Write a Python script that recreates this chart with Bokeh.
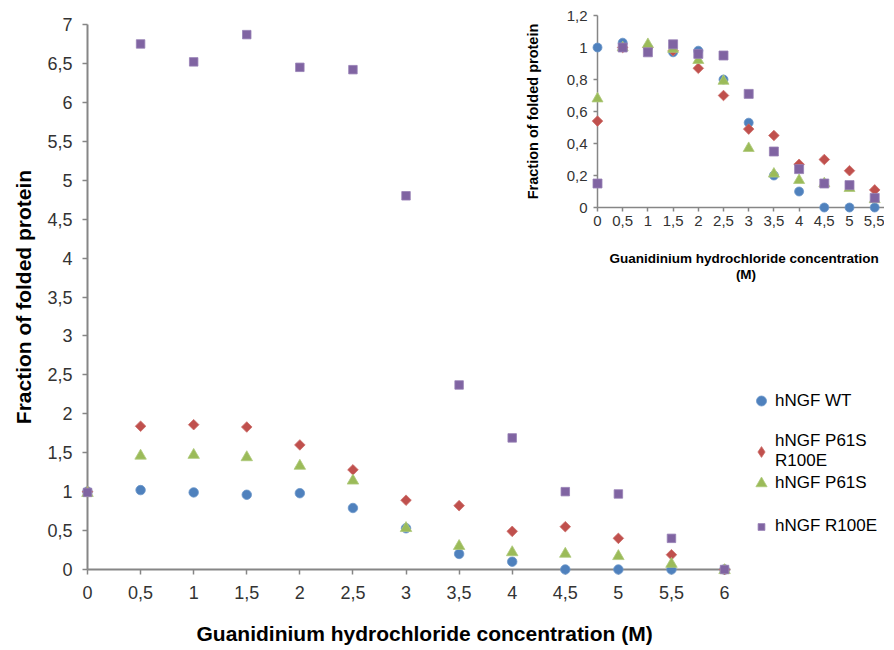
from bokeh.plotting import figure
from bokeh.models import FixedTicker, Legend, LegendItem, Range1d, Title
from bokeh.layouts import column
from bokeh.embed import file_html
from bokeh.resources import INLINE

# ---------------- data ----------------
conc_main = [0, 0.5, 1, 1.5, 2, 2.5, 3, 3.5, 4, 4.5, 5, 5.5, 6]
wt_main = [1.00, 1.02, 0.99, 0.96, 0.98, 0.79, 0.53, 0.20, 0.10, 0.00, 0.00, 0.00, 0.00]
p61s_r100e_main = [1.00, 1.84, 1.86, 1.83, 1.60, 1.28, 0.89, 0.82, 0.49, 0.55, 0.40, 0.19, 0.00]
p61s_main = [0.98, 1.46, 1.47, 1.44, 1.33, 1.14, 0.53, 0.30, 0.22, 0.20, 0.17, 0.07, -0.01]
r100e_main = [0.99, 6.75, 6.52, 6.87, 6.45, 6.42, 4.80, 2.37, 1.69, 1.00, 0.97, 0.40, 0.00]

conc_inset = [0, 0.5, 1, 1.5, 2, 2.5, 3, 3.5, 4, 4.5, 5, 5.5]
wt_inset = [1.00, 1.03, 1.00, 0.97, 0.98, 0.80, 0.53, 0.20, 0.10, 0.00, 0.00, 0.00]
p61s_r100e_inset = [0.54, 1.00, 1.00, 0.98, 0.87, 0.70, 0.49, 0.45, 0.27, 0.30, 0.23, 0.11]
p61s_inset = [0.68, 1.00, 1.02, 0.99, 0.92, 0.79, 0.37, 0.21, 0.17, 0.15, 0.12, 0.05]
r100e_inset = [0.15, 1.00, 0.97, 1.02, 0.96, 0.95, 0.71, 0.35, 0.24, 0.15, 0.14, 0.06]

series_names = ["hNGF WT", "hNGF P61S\nR100E", "hNGF P61S", "hNGF R100E"]

main_x_ticks = [0, 0.5, 1, 1.5, 2, 2.5, 3, 3.5, 4, 4.5, 5, 5.5, 6]
main_x_tick_labels = ["0", "0,5", "1", "1,5", "2", "2,5", "3", "3,5", "4", "4,5", "5", "5,5", "6"]
main_y_ticks = [0, 0.5, 1, 1.5, 2, 2.5, 3, 3.5, 4, 4.5, 5, 5.5, 6, 6.5, 7]
main_y_tick_labels = ["0", "0,5", "1", "1,5", "2", "2,5", "3", "3,5", "4", "4,5", "5", "5,5", "6", "6,5", "7"]
inset_x_ticks = [0, 0.5, 1, 1.5, 2, 2.5, 3, 3.5, 4, 4.5, 5, 5.5]
inset_x_tick_labels = ["0", "0,5", "1", "1,5", "2", "2,5", "3", "3,5", "4", "4,5", "5", "5,5"]
inset_y_ticks = [0, 0.2, 0.4, 0.6, 0.8, 1.0, 1.2]
inset_y_tick_labels = ["0", "0,2", "0,4", "0,6", "0,8", "1", "1,2"]

x_title = "Guanidinium hydrochloride concentration (M)"
x_title_inset = "Guanidinium hydrochloride  concentration\n(M)"
y_title = "Fraction of folded protein"

# ---------------- styles ----------------
FONT = "Liberation Sans"
AXIS_GREY = "#868686"
TICK_TEXT = "#333333"
COLORS = ["#4F81BD", "#C0504D", "#9BBB59", "#8064A2"]
EDGES = ["#6a95c9", "#cc6e6b", "#afc97b", "#9780b5"]
MARKERS = ["circle", "square", "triangle", "square"]
ANGLES = [0.0, 0.785398, 0.0, 0.0]


def style_axis(ax, ticks, labels, font_px, title_px, tick_out, standoff, title_standoff, lw):
    ax.ticker = FixedTicker(ticks=ticks)
    ax.major_label_overrides = {t: l for t, l in zip(ticks, labels)}
    ax.axis_line_color = AXIS_GREY
    ax.axis_line_width = lw
    ax.major_tick_line_color = AXIS_GREY
    ax.major_tick_line_width = 1.5
    ax.major_tick_out = tick_out
    ax.major_tick_in = 0
    ax.minor_tick_line_color = None
    ax.major_label_text_font = FONT
    ax.major_label_text_font_size = f"{font_px}px"
    ax.major_label_text_color = TICK_TEXT
    ax.major_label_standoff = standoff
    ax.axis_label_text_font = FONT
    ax.axis_label_text_font_style = "bold"
    ax.axis_label_text_font_size = f"{title_px}px"
    ax.axis_label_text_color = "#000000"
    ax.axis_label_standoff = title_standoff


# ---------------- main chart ----------------
MAIN_LEFT = 87
MAIN_X_END = 6.056          # end of the drawn x axis
PX_PER_X = 643 / MAIN_X_END
MAIN_FRAME_W = 807          # frame reaches the right edge so the legend fits in it
MAIN_H = 24 + 545 + 100
p = figure(frame_width=MAIN_FRAME_W, frame_height=545,
           x_range=Range1d(0, MAIN_FRAME_W / PX_PER_X), y_range=Range1d(0, 7),
           min_border_left=MAIN_LEFT, min_border_right=0,
           min_border_top=24, min_border_bottom=100,
           output_backend="svg", toolbar_location=None)
p.outline_line_color = None
p.grid.visible = False
p.background_fill_color = "white"
p.border_fill_color = "white"

p.yaxis.axis_label = y_title
style_axis(p.xaxis[0], main_x_ticks, main_x_tick_labels, 18, 21, 5, 11, 22, 2)
style_axis(p.yaxis[0], main_y_ticks, main_y_tick_labels, 18, 21, 5, 10, 9, 2)
p.xaxis[0].bounds = (0, MAIN_X_END)
p.add_layout(Title(text=x_title, align="left", offset=109, standoff=37,
                   text_font=FONT, text_font_style="bold", text_font_size="21px",
                   text_color="#000000"), "below")

main_series = [wt_main, p61s_r100e_main, p61s_main, r100e_main]
main_sizes = [9.5, 7.5, 11.5, 8.5]
main_renderers = []
for ys, c, e, m, a, s in zip(main_series, COLORS, EDGES, MARKERS, ANGLES, main_sizes):
    r = p.scatter(conc_main, ys, marker=m, angle=a, size=s, fill_color=c, line_color=e, line_width=0.8)
    r.level = "annotation"
    main_renderers.append(r)

# legend entries: the diamond series gets an unrotated "diamond" proxy for its key
diamond_key = p.scatter(conc_main, p61s_r100e_main, marker="diamond", size=8,
                        fill_color=COLORS[1], line_color=EDGES[1], line_width=0.8)
diamond_key.visible = False
legend_renderers = [main_renderers[0], diamond_key, main_renderers[2], main_renderers[3]]

glyph_h = [25, 27, 28, 17]
legend_pos = [(660, 156), (660, 98), (660, 72), (660, 33)]
for r, name, gh, (vx, vy) in zip(legend_renderers, series_names, glyph_h, legend_pos):
    leg = Legend(items=[LegendItem(label=name, renderers=[r])], location=(vx, vy),
                 padding=0, margin=0, spacing=0, border_line_color=None,
                 background_fill_alpha=0, inactive_fill_alpha=0,
                 glyph_width=28, glyph_height=gh, label_standoff=-6,
                 label_text_font=FONT, label_text_font_size="17px",
                 label_text_line_height=1.0,
                 label_text_color="#000000", label_height=17)
    p.add_layout(leg)

# ---------------- inset chart (transparent canvas laid over the main one) ----------------
# the column lines up the left borders of both canvases (both become MAIN_LEFT wide),
# so the inset canvas is shifted to put its y axis at x = 597
INSET_FRAME_W = 297
q = figure(frame_width=INSET_FRAME_W, frame_height=192,
           x_range=Range1d(0, INSET_FRAME_W / 50.4), y_range=Range1d(0, 1.2),
           min_border_left=77, min_border_right=0, min_border_top=15, min_border_bottom=80,
           output_backend="svg", toolbar_location=None)
q.outline_line_color = None
q.grid.visible = False
q.background_fill_alpha = 0
q.border_fill_alpha = 0
q.xaxis.axis_label = x_title_inset
q.yaxis.axis_label = y_title
style_axis(q.xaxis[0], inset_x_ticks, inset_x_tick_labels, 15, 13.5, 4, 4, 22, 1.5)
style_axis(q.yaxis[0], inset_y_ticks, inset_y_tick_labels, 15, 14.5, 4, 6, 23, 1.5)
q.xaxis[0].axis_label_text_line_height = 1.1

inset_series = [wt_inset, p61s_r100e_inset, p61s_inset, r100e_inset]
inset_sizes = [9, 7.5, 11, 9]
for ys, c, e, m, a, s in zip(inset_series, COLORS, EDGES, MARKERS, ANGLES, inset_sizes):
    r = q.scatter(conc_inset, ys, marker=m, angle=a, size=s, fill_color=c, line_color=e, line_width=0.8)
    r.level = "annotation"

q.margin = (-MAIN_H, 0, 0, 597 - MAIN_LEFT)

layout = column(p, q)
open("out.html", "w").write(file_html(layout, INLINE))
